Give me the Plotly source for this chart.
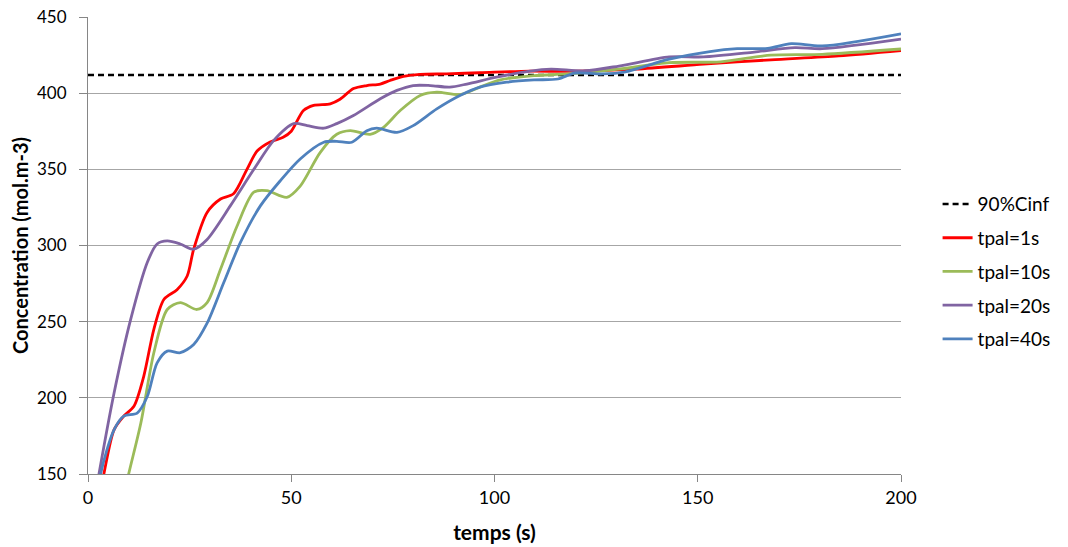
import plotly.graph_objects as go

# Threshold
cinf90_x = [0, 200]
cinf90_y = [412, 412]

# tpal=1s (red)
t1_x = [1, 3.9, 6.4, 8.8, 11.3, 13.7, 16.2, 18.7, 21.9, 24.4, 26, 29.3, 32.6, 35.8, 39.1, 41.6, 44.8, 48, 50, 53, 55.5, 59.6, 62, 65.3, 68.6, 71.9, 74.3, 77.6, 81.7, 88.2, 96.4, 108.7, 118, 134.7, 151.4, 168, 184.7, 200]
t1_y = [110, 150, 179, 188, 194.5, 214, 245, 264.7, 271, 280, 297.6, 321.7, 330.5, 334, 350, 362, 368, 371, 375, 388.6, 392, 393, 396, 403, 405, 406, 408.3, 411, 412.3, 412.7, 413.4, 414.5, 414.3, 415.8, 419, 421.9, 424.5, 428]

# tpal=10s (green)
t10_x = [7, 10, 13, 16.2, 19.5, 22.7, 26.8, 29.3, 32.6, 36.7, 40.8, 44, 48.9, 52.2, 57.1, 61.2, 64.5, 69.4, 72.7, 76.8, 81.7, 85.8, 91.5, 96.4, 101.4, 109.7, 118, 130.6, 143, 155.6, 168, 180.6, 200]
t10_y = [115, 150, 183.5, 229.6, 258, 262.5, 258, 262.5, 284.4, 313, 335, 336, 331.6, 339, 361, 373, 375.4, 373, 377.6, 388.6, 398.5, 400.7, 399, 404, 408.7, 411.5, 412.6, 415.8, 420, 420.6, 425, 425.5, 429]

# tpal=20s (purple)
t20_x = [0.5, 2.7, 6.4, 10.5, 14.6, 17, 19.5, 22.7, 26, 29.3, 35, 40.8, 45.7, 50.6, 53.9, 58, 61.2, 65.3, 71.9, 76, 80, 84.2, 89, 93.2, 100.5, 108.7, 113.9, 122.2, 130.6, 143, 151.4, 163.9, 173.9, 180.6, 200]
t20_y = [115, 150, 203, 251.5, 289, 301, 303, 301, 297.6, 304, 326, 350, 369, 380, 378.7, 377, 380, 385.3, 396.3, 401.8, 405, 405, 404, 406, 410.5, 414.5, 415.8, 414.7, 417.8, 423.8, 423.8, 427, 429.9, 429.2, 435.5]

# tpal=40s (blue)
t40_x = [1, 3.1, 6.4, 8.8, 12.1, 14.6, 17, 19.5, 22.7, 26, 29.3, 33.4, 37.5, 42.4, 47.3, 52.2, 58, 61.2, 64.9, 68.6, 71, 76, 80, 85.8, 91.5, 96.4, 103, 109.7, 115.6, 119.7, 126.4, 132.2, 143, 153, 159.7, 167.2, 173, 180.6, 200]
t40_y = [110, 150, 179, 188, 190, 201, 223, 230.7, 229.6, 235, 249, 275.7, 302, 326, 342.5, 356.8, 367.8, 368.4, 367.8, 375.4, 377, 374.3, 378.7, 389.7, 398.5, 404, 407.2, 408.7, 409.3, 413.2, 412.6, 414, 422.3, 427.3, 429.2, 429.4, 432.5, 431, 439]

x_ticks = [0, 50, 100, 150, 200]
y_ticks = [150, 200, 250, 300, 350, 400, 450]

FONT = "Lato, 'Open Sans', sans-serif"
fig = go.Figure()
fig.add_trace(go.Scatter(x=cinf90_x, y=cinf90_y, mode="lines", name="90%Cinf",
                         legendgroup="a",
                         line=dict(color="black", width=2.5, dash="6px,4px")))
series = [
    ("tpal=1s", t1_x, t1_y, "#FF0000"),
    ("tpal=10s", t10_x, t10_y, "#9BBB59"),
    ("tpal=20s", t20_x, t20_y, "#8064A2"),
    ("tpal=40s", t40_x, t40_y, "#4F81BD"),
]
for i, (name, xs, ys, col) in enumerate(series):
    fig.add_trace(go.Scatter(x=xs, y=ys, mode="lines", name=name,
                             legendgroup=name,
                             line=dict(color=col, width=2.8, shape="spline", smoothing=0.8)))

fig.update_layout(
    width=1068, height=547,
    margin=dict(l=88, r=167, t=17, b=73, autoexpand=False),
    plot_bgcolor="white", paper_bgcolor="white",
    font=dict(family=FONT, size=17, color="#000000"),
    showlegend=True,
    legend=dict(x=1.045, xanchor="left", y=0.632, yanchor="top",
                traceorder="grouped", tracegroupgap=6,
                font=dict(size=19), bgcolor="rgba(0,0,0,0)"),
    xaxis=dict(range=[0, 200], tickvals=x_ticks, showgrid=False, automargin=False,
               showline=True, linecolor="#868686", linewidth=1,
               ticks="outside", ticklen=7, tickcolor="#868686",
               zeroline=False, tickfont=dict(size=18), ticklabeloverflow="allow",
               title=dict(text="<b>temps (s)</b>", font=dict(size=21), standoff=18)),
    yaxis=dict(range=[150, 450], tickvals=y_ticks, showgrid=True, automargin=False,
               gridcolor="#A6A6A6", gridwidth=1,
               showline=True, linecolor="#868686", linewidth=1,
               ticks="outside", ticklen=8, tickcolor="#868686",
               zeroline=False, tickfont=dict(size=17), ticklabelstandoff=9,
               ticklabeloverflow="allow",
               title=dict(text="<b>Concentration (mol.m-3)</b>", font=dict(size=20), standoff=3)),
)

fig.write_html("out.html", config={"displayModeBar": False},
               post_script="document.body.style.margin='0';document.body.style.overflow='hidden';")
